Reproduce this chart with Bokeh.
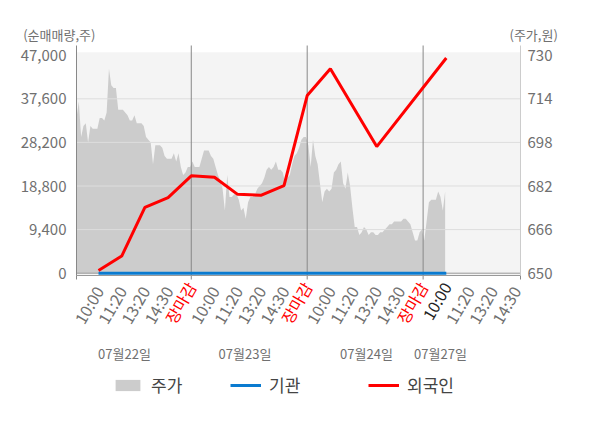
import math
from bokeh.plotting import figure
from bokeh.models import (Range1d, LinearAxis, FixedTicker, NumeralTickFormatter,
                          BoxAnnotation, Label, Legend, LegendItem, ColumnDataSource, AllLabels)
from bokeh.embed import file_html
from bokeh.resources import INLINE

# ---------------- data ----------------
tick_labels = ["10:00", "11:20", "13:20", "14:30", "장마감",
               "10:00", "11:20", "13:20", "14:30", "장마감",
               "10:00", "11:20", "13:20", "14:30", "장마감",
               "10:00", "11:20", "13:20", "14:30"]
close_slots = [5, 10, 15]          # 장마감 (red labels)
current_slot = 16                  # highlighted (black) label
dates = ["07월22일", "07월23일", "07월24일", "07월27일"]
left_ticks = [0, 9400, 18800, 28200, 37600, 47000]
right_ticks = [650, 666, 682, 698, 714, 730]

foreign_slots = [1, 2, 3, 4, 5, 6, 7, 8, 9, 10, 11, 13, 16]
foreign_vals = [600, 3700, 14200, 16300, 21000, 20700, 17000, 16800, 18900,
                38300, 44100, 27300, 46400]
inst_slots = [1, 2, 3, 4, 5, 6, 7, 8, 9, 10, 11, 13, 16]
inst_vals = [0, 0, 0, 0, 0, 0, 0, 0, 0, 0, 0, 0, 0]

price = [707, 713, 700, 704, 705, 698, 704, 703, 703, 703,
         707, 707, 706, 709, 725, 719, 718, 718, 710, 710,
         710, 709, 708, 706, 706, 708, 705, 705, 705, 704,
         700, 699, 698, 690, 697, 697, 697, 696, 693, 692,
         692, 692, 694, 691, 694, 689, 686, 687, 689, 689,
         691, 689, 689, 689, 692, 695, 695, 695, 693, 692,
         689, 686, 684, 681, 673, 686, 678, 678, 679, 679,
         677, 673, 674, 670, 676, 678, 678, 679, 681, 682,
         683, 685, 688, 689, 688, 689, 691, 688, 688, 687,
         683, 685, 686, 690, 693, 694, 696, 699, 700, 700,
         697, 689, 699, 693, 690, 683, 676, 680, 681, 680,
         681, 687, 688, 690, 691, 683, 681, 687, 682, 674,
         667, 667, 664, 665, 667, 666, 664, 665, 665, 664,
         664, 665, 665, 666, 667, 668, 668, 669, 669, 669,
         669, 670, 670, 669, 668, 665, 662, 662, 665, 666,
         662, 669, 676, 677, 677, 677, 680, 678, 673, 680]
price_start = 0.05
price_step = 0.1
price_x = [price_start + price_step * i for i in range(len(price))]

# ---------------- geometry (canvas pixels) ----------------
W, H = 590, 420
CH_L, CH_R = 76, 520          # chart region left/right
CH_B = 275                    # chart bottom (x axis line)
LINE_TOP = 45                 # top of axis / separator lines
BG_TOP = 51.7                 # top of grey background
ZERO_Y = 272.7                # pixel of the 0 / 650 level
X0, X1 = 0.05, 19.2           # slot range across the chart
PX_PER_VOL = 43.6 / 9400      # px per share (left axis)
PX_PER_WON = 43.6 / 16        # px per won (right axis)

ux = (CH_R - CH_L) / (X1 - X0)


def vol_at(py):
    return (ZERO_Y - py) / PX_PER_VOL


def won_at(py):
    return 650 + (ZERO_Y - py) / PX_PER_WON


x_range = Range1d(X0 - CH_L / ux, X0 + (W - CH_L) / ux)
y_range = Range1d(vol_at(H), vol_at(0))
Y_MIN, Y_MAX = vol_at(CH_B), vol_at(LINE_TOP)

FONT = "Noto Sans CJK KR"
GRAY_TXT = "#707070"
ANGLE = math.radians(60)
X_FONT = "16px"
Y_FONT = "15px"
X_STANDOFF = 8

p = figure(width=W, height=H, output_backend="svg", toolbar_location=None,
           x_range=x_range, y_range=y_range,
           min_border_left=0, min_border_right=0, min_border_top=0, min_border_bottom=0,
           background_fill_color="white", border_fill_color="white",
           outline_line_color=None)
p.title.visible = False
p.extra_y_ranges = {"price": Range1d(won_at(H), won_at(0))}

# grey chart background
p.add_layout(BoxAnnotation(left=X0, right=X1, bottom=Y_MIN, top=vol_at(BG_TOP),
                           fill_color="#f4f4f4", fill_alpha=1, line_color=None,
                           level="image"))

# price area (right axis)
area_src = ColumnDataSource(dict(x=price_x, y=price))
area = p.varea(x="x", y1=650, y2="y", source=area_src, y_range_name="price",
               fill_color="#cccccc", level="underlay")

# grid lines (limited to the chart region)
p.xgrid.visible = False
p.ygrid.visible = False
grid_vals = left_ticks[1:5]
p.segment(x0=[X0] * len(grid_vals), x1=[X1] * len(grid_vals), y0=grid_vals, y1=grid_vals,
          line_color="#dddddd", line_width=1, level="glyph")
p.segment(x0=[X0], x1=[X1], y0=[0], y1=[0], line_color="#999999", line_width=1,
          level="glyph")
# day separators (with tick below the axis)
p.segment(x0=close_slots, x1=close_slots, y0=[vol_at(CH_B + 4)] * 3, y1=[Y_MAX] * 3,
          line_color="#888888", line_width=1, level="glyph")

# lines
inst = p.line(inst_slots, inst_vals, line_color="#0a7bd0", line_width=3, level="overlay")
foreign = p.line(foreign_slots, foreign_vals, line_color="#ff0000", line_width=3,
                 level="overlay")

# left axis
ya = p.yaxis[0]
ya.fixed_location = X0
ya.bounds = (Y_MIN, Y_MAX)
ya.ticker = FixedTicker(ticks=left_ticks)
ya.formatter = NumeralTickFormatter(format="0,0")
ya.major_tick_line_color = None
ya.major_tick_out = 0
ya.major_tick_in = 0
ya.minor_tick_line_color = None
ya.axis_line_color = "#888888"
ya.major_label_standoff = 10
ya.major_label_text_font = FONT
ya.major_label_text_font_size = Y_FONT
ya.major_label_text_color = GRAY_TXT

# right axis
ra = LinearAxis(y_range_name="price", ticker=FixedTicker(ticks=right_ticks),
                fixed_location=X1, bounds=(won_at(CH_B), won_at(LINE_TOP)))
ra.major_tick_line_color = None
ra.major_tick_out = 0
ra.major_tick_in = 0
ra.minor_tick_line_color = None
ra.axis_line_color = "#cccccc"
ra.major_label_standoff = 7
ra.major_label_text_font = FONT
ra.major_label_text_font_size = Y_FONT
ra.major_label_text_color = GRAY_TXT
p.add_layout(ra, "right")

# x axis
xa = p.xaxis[0]
xa.fixed_location = Y_MIN
xa.bounds = (X0, X1)
slots = list(range(1, len(tick_labels) + 1))
xa.ticker = FixedTicker(ticks=slots, minor_ticks=[X0, X1])
overrides = {}
for s, t in zip(slots, tick_labels):
    overrides[s] = "" if (s in close_slots or s == current_slot) else t
xa.major_label_overrides = overrides
xa.major_label_policy = AllLabels()
xa.major_label_orientation = ANGLE
xa.major_tick_line_color = None
xa.major_tick_out = 0
xa.major_tick_in = 0
xa.minor_tick_line_color = "#888888"
xa.minor_tick_out = 4
xa.minor_tick_in = 0
xa.axis_line_color = "#999999"
xa.major_label_standoff = X_STANDOFF
xa.major_label_text_font = FONT
xa.major_label_text_font_size = X_FONT
xa.major_label_text_color = GRAY_TXT

# coloured tick labels
lab_y = H - (CH_B + X_STANDOFF)
for s in close_slots:
    p.add_layout(Label(x=s, y=lab_y, y_units="screen", text=tick_labels[s - 1],
                       angle=ANGLE, text_align="right", text_baseline="middle",
                       text_font=FONT, text_font_size=X_FONT, text_color="#ff0000"))
p.add_layout(Label(x=current_slot, y=lab_y, y_units="screen",
                   text=tick_labels[current_slot - 1], angle=ANGLE,
                   text_align="right", text_baseline="middle", text_font=FONT,
                   text_font_size=X_FONT, text_color="#222222"))

# date labels
date_px = [124, 244.5, 366, 440]
for dx, d in zip(date_px, dates):
    p.add_layout(Label(x=dx, y=H - 353, x_units="screen", y_units="screen", text=d,
                       text_align="center", text_baseline="middle", text_font=FONT,
                       text_font_size="13px", text_color=GRAY_TXT))

# axis titles
p.add_layout(Label(x=22.7, y=H - 34, x_units="screen", y_units="screen",
                   text="(순매매량,주)", text_align="left", text_baseline="middle",
                   text_font=FONT, text_font_size="13px", text_color=GRAY_TXT))
p.add_layout(Label(x=509, y=H - 34, x_units="screen", y_units="screen",
                   text="(주가,원)", text_align="left", text_baseline="middle",
                   text_font=FONT, text_font_size="13px", text_color=GRAY_TXT))


# legends (one per item, placed like the reference)
def make_legend(label, rend, px):
    lg = Legend(items=[LegendItem(label=label, renderers=[rend])],
                location=(px, H - 397.3), orientation="horizontal",
                padding=0, margin=0, spacing=0,
                glyph_width=31, glyph_height=14, label_height=14, label_standoff=8,
                label_text_font=FONT, label_text_font_size="17px",
                label_text_color="#444444", border_line_color=None,
                background_fill_alpha=0)
    p.add_layout(lg)


make_legend("주가", area, 112)
make_legend("기관", inst, 230)
make_legend("외국인", foreign, 368)

open("out.html", "w").write(file_html(p, INLINE))
